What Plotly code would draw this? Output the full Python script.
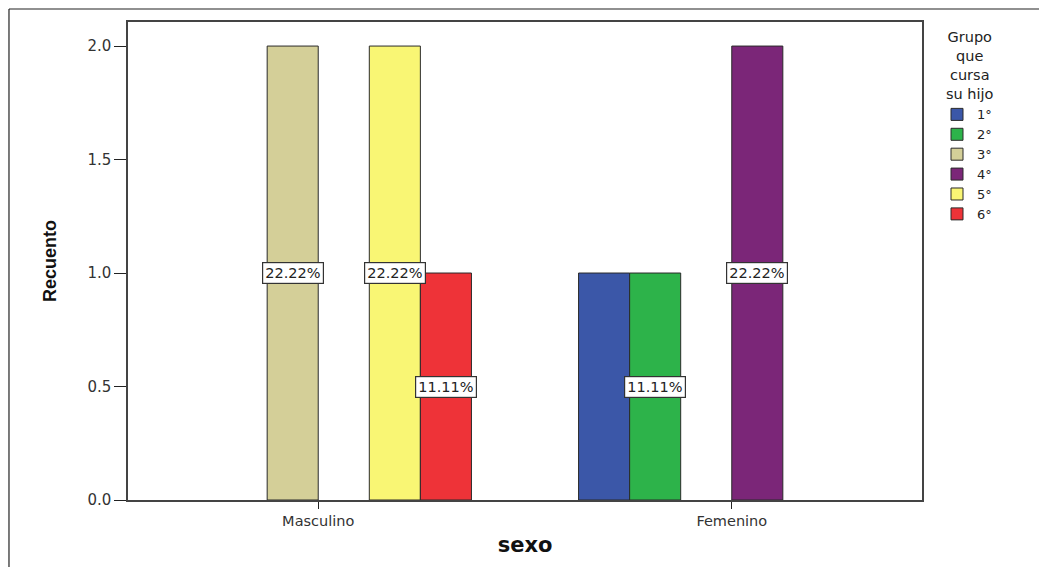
import plotly.graph_objects as go

categories = ["Masculino", "Femenino"]
series_names = ["1°", "2°", "3°", "4°", "5°", "6°"]
series_values = {
    "1°": [None, 1],
    "2°": [None, 1],
    "3°": [2, None],
    "4°": [None, 2],
    "5°": [2, None],
    "6°": [1, None],
}
colors = ["#3B57A8", "#2DB34A", "#D4CF98", "#7B2678", "#F9F674", "#EE3338"]
y_ticks = [0.0, 0.5, 1.0, 1.5, 2.0]
legend_title = "Grupo<br>que<br>cursa<br>su hijo"

# which labels to show (one label for overlapping pair in Femenino)
label_slots = [("3°", 0), ("5°", 0), ("6°", 0), ("2°", 1), ("4°", 1)]

bargap = 0.259
total = sum(v for s in series_values.values() for v in s if v is not None)

FONT = "DejaVu Sans, Verdana, sans-serif"

fig = go.Figure()
for name, col in zip(series_names, colors):
    fig.add_trace(go.Bar(
        x=categories, y=series_values[name], name=name,
        marker=dict(color=col, line=dict(color="#2a2a2a", width=1)),
    ))

n = len(series_names)
annotations = []
for name, g in label_slots:
    k = series_names.index(name)
    v = series_values[name][g]
    xpos = g - (1 - bargap) / 2 + (k + 0.5) * (1 - bargap) / n
    annotations.append(dict(
        x=xpos, y=v / 2, xref="x", yref="y", text=f"{v / total * 100:.2f}%",
        showarrow=False, bgcolor="white", bordercolor="#333", borderwidth=1.2,
        borderpad=2, font=dict(family=FONT, size=14.5, color="#222"),
    ))

# legend title (centered lines)
annotations.append(dict(
    x=1.0605, y=0.99, xref="paper", yref="paper", xanchor="center", yanchor="top",
    text=legend_title, align="center", showarrow=False,
    font=dict(family=FONT, size=14.5, color="#222"),
))

fig.update_layout(
    width=1039, height=559,
    margin=dict(l=120, r=125, t=14, b=67),
    paper_bgcolor="white", plot_bgcolor="white",
    barmode="group", bargap=bargap, bargroupgap=0,
    font=dict(family=FONT, size=14, color="#333"),
    xaxis=dict(
        type="category", range=[-0.46, 1.46],
        showline=True, linecolor="#444", linewidth=1.5, mirror=True,
        ticks="outside", ticklen=7, tickcolor="#222",
        showgrid=False, zeroline=False,
        tickfont=dict(family=FONT, size=14.5, color="#333"),
        title=dict(text="<b>sexo</b>", standoff=9,
                   font=dict(family=FONT, size=21, color="#111")),
    ),
    yaxis=dict(
        range=[0, 2.106], tickvals=y_ticks, tickformat=".1f",
        showline=True, linecolor="#444", linewidth=1.5, mirror=True,
        ticks="outside", ticklen=12, tickcolor="#222",
        showgrid=False, zeroline=False,
        tickfont=dict(family=FONT, size=15, color="#333"),
        title=dict(text="<b>Recuento</b>", standoff=26,
                   font=dict(family="Liberation Sans Narrow, Arial Narrow, Liberation Sans", size=18, color="#111")),
    ),
    legend=dict(
        x=1.0189, y=0.838, xanchor="left", yanchor="top",
        font=dict(family=FONT, size=13, color="#222"),
        itemwidth=30, tracegroupgap=0, bgcolor="rgba(0,0,0,0)",
    ),
    annotations=annotations,
    shapes=[
        dict(type="line", xref="paper", yref="paper", x0=-0.1499, x1=1.3, y0=1.0272, y1=1.0272,
             line=dict(color="#222", width=1.2)),
        dict(type="line", xref="paper", yref="paper", x0=-0.1499, x1=-0.1499, y0=1.0272, y1=-0.3,
             line=dict(color="#222", width=1.2)),
    ],
)

fig.write_html("out.html")
